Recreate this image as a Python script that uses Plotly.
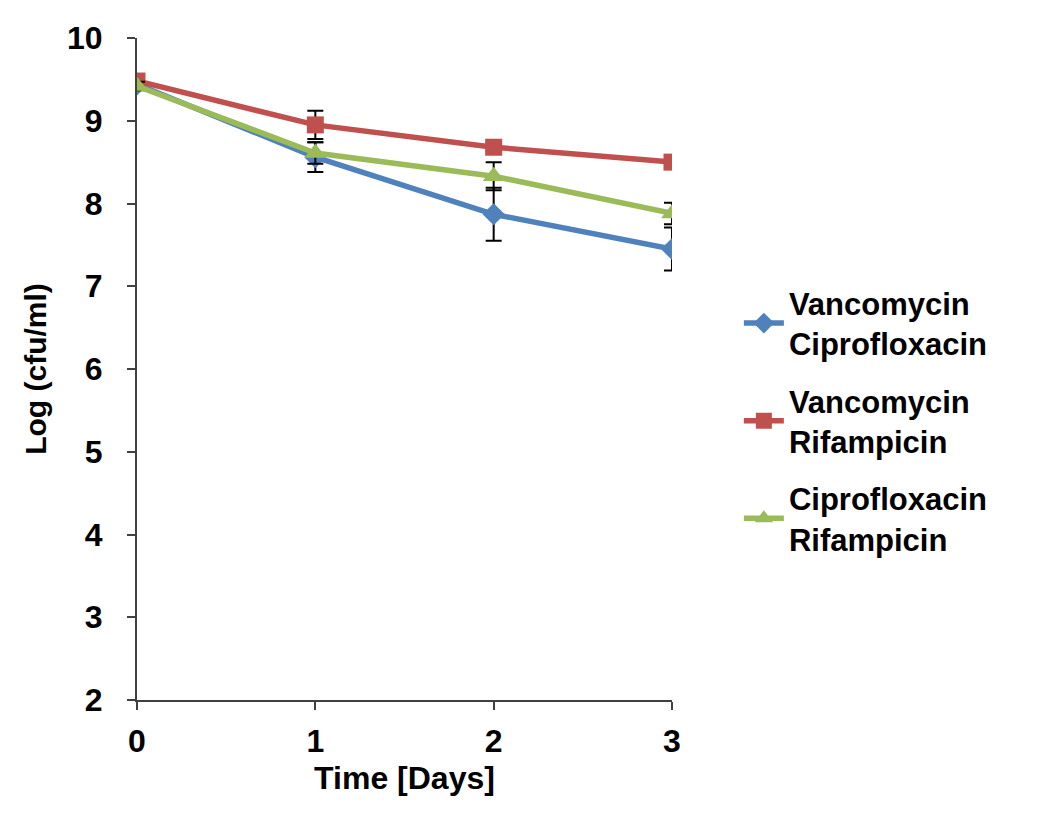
import plotly.graph_objects as go

days = [0, 1, 2, 3]
series_names = ["Vancomycin<br>Ciprofloxacin", "Vancomycin<br>Rifampicin", "Ciprofloxacin<br>Rifampicin"]
vanc_cipro = [9.44, 8.56, 7.87, 7.45]
vanc_cipro_err = [0.05, 0.18, 0.32, 0.26]
vanc_rif = [9.48, 8.95, 8.68, 8.50]
vanc_rif_err = [0.05, 0.17, 0.05, 0.07]
cipro_rif = [9.42, 8.61, 8.33, 7.88]
cipro_rif_err = [0.05, 0.13, 0.17, 0.13]

colors = ["#4F81BD", "#C0504D", "#9BBB59"]
symbols = ["diamond", "square", "triangle-up"]
sizes = [17, 17, 19]
values = [vanc_cipro, vanc_rif, cipro_rif]
errors = [vanc_cipro_err, vanc_rif_err, cipro_rif_err]

FONT = "Liberation Sans, Arial, sans-serif"

fig = go.Figure()
for i in range(3):
    fig.add_trace(go.Scatter(
        x=days, y=values[i], name=series_names[i], mode="lines+markers",
        legendgroup=str(i),
        line=dict(color=colors[i], width=5.5),
        marker=dict(symbol=symbols[i], size=sizes[i], color=colors[i]),
        error_y=dict(type="data", array=errors[i], color="black", thickness=2, width=8),
    ))

fig.update_layout(
    width=1050, height=834,
    margin=dict(l=129, r=386, t=27, b=142),
    plot_bgcolor="white", paper_bgcolor="white",
    font=dict(family=FONT, size=30, color="black", weight="bold"),
    showlegend=True,
    legend=dict(x=1.125, y=0.64, xanchor="left", yanchor="top",
                font=dict(family=FONT, size=31, color="black", weight="bold"),
                tracegroupgap=14, itemwidth=40, traceorder="grouped",
                bgcolor="rgba(0,0,0,0)"),
)
fig.update_xaxes(range=[0, 3], tickvals=[0, 1, 2, 3], showline=True, linecolor="#404040", linewidth=2,
                 ticks="outside", ticklen=8, tickcolor="#404040", tickwidth=2,
                 showgrid=False, zeroline=False, ticklabelstandoff=4,
                 tickfont=dict(family=FONT, size=32, weight="bold"),
                 title=dict(text="Time [Days]", font=dict(family=FONT, size=32, weight="bold"), standoff=8))
fig.update_yaxes(range=[2, 10], tickvals=list(range(2, 11)), showline=True, linecolor="#404040", linewidth=2,
                 ticks="outside", ticklen=8, tickcolor="#404040", tickwidth=2,
                 showgrid=False, zeroline=False, ticklabelstandoff=18,
                 tickfont=dict(family=FONT, size=32, weight="bold"),
                 title=dict(text="Log (cfu/ml)", font=dict(family=FONT, size=30, weight="bold"), standoff=12))

fig.write_html("out.html")
